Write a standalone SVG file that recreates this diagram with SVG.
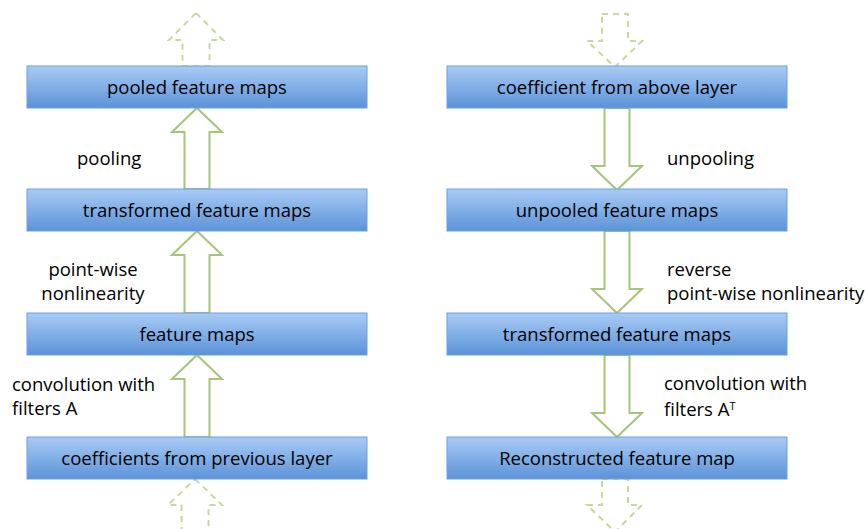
<svg xmlns="http://www.w3.org/2000/svg" width="865" height="529" viewBox="0 0 865 529">
<defs>
<linearGradient id="bg" x1="0" y1="0" x2="0" y2="1">
<stop offset="0" stop-color="#a9cbf5"/>
<stop offset="1" stop-color="#5b93d8"/>
</linearGradient>
<style>
.box{fill:url(#bg);stroke:#6d9fdc;stroke-width:1}
.t{font-family:"Open Sans","Liberation Sans",sans-serif;font-size:18.5px;fill:#000}
.c{text-anchor:middle}
.ar{fill:#fff;stroke:#a6c47a;stroke-width:2}
.da{fill:none;stroke:#c6d9a0;stroke-width:2;stroke-dasharray:6,5}
</style>
</defs>
<rect width="865" height="529" fill="#fff"/>
<g id="connectors">
<path class="da" d="M196,13 L223,40 L209.5,40 L209.5,66 L182.5,66 L182.5,40 L169,40 Z"/>
<path class="ar" d="M197,108 L222,132 L209.5,132 L209.5,189 L184.5,189 L184.5,132 L172,132 Z"/>
<path class="ar" d="M197,231 L222,255 L209.5,255 L209.5,313 L184.5,313 L184.5,255 L172,255 Z"/>
<path class="ar" d="M197,355 L222,379 L209.5,379 L209.5,437 L184.5,437 L184.5,379 L172,379 Z"/>
<path class="da" d="M195,479 L222,505 L208.5,505 L208.5,535 L181.5,535 L181.5,505 L168,505 Z"/>
<path class="da" d="M602,14 L628,14 L628,41 L642,41 L615,67 L587,41 L602,41 Z"/>
<path class="ar" d="M604.5,108 L629.5,108 L629.5,166 L642,166 L617,190 L592,166 L604.5,166 Z"/>
<path class="ar" d="M604.5,231 L629.5,231 L629.5,289 L642,289 L617,313 L592,289 L604.5,289 Z"/>
<path class="ar" d="M604.5,355 L629.5,355 L629.5,413 L642,413 L617,437 L592,413 L604.5,413 Z"/>
<path class="da" d="M602,479 L628,479 L628,505 L642,505 L615,532 L587,505 L602,505 Z"/>
</g>
<g id="n1"><rect class="box" x="27" y="66" width="340" height="42"/><text class="t c" x="197" y="94">pooled feature maps</text></g>
<g id="n2"><rect class="box" x="27" y="189" width="340" height="42"/><text class="t c" x="197" y="217">transformed feature maps</text></g>
<g id="n3"><rect class="box" x="27" y="313" width="340" height="42"/><text class="t c" x="197" y="341">feature maps</text></g>
<g id="n4"><rect class="box" x="27" y="437" width="340" height="42"/><text class="t c" x="197" y="465">coefficients from previous layer</text></g>
<g id="n5"><rect class="box" x="447" y="66" width="340" height="42"/><text class="t c" x="617" y="94">coefficient from above layer</text></g>
<g id="n6"><rect class="box" x="447" y="189" width="340" height="42"/><text class="t c" x="617" y="217">unpooled feature maps</text></g>
<g id="n7"><rect class="box" x="447" y="313" width="340" height="42"/><text class="t c" x="617" y="341">transformed feature maps</text></g>
<g id="n8"><rect class="box" x="447" y="437" width="340" height="42"/><text class="t c" x="617" y="465">Reconstructed feature map</text></g>
<g id="labels">
<text class="t" x="77" y="165">pooling</text>
<text class="t c" x="93" y="276">point-wise</text>
<text class="t c" x="93" y="300">nonlinearity</text>
<text class="t" x="12" y="391">convolution with</text>
<text class="t" x="12" y="415">filters A</text>
<text class="t" x="667" y="165">unpooling</text>
<text class="t" x="667" y="276">reverse</text>
<text class="t" x="667" y="300">point-wise nonlinearity</text>
<text class="t" x="664" y="390">convolution with</text>
<text class="t" x="664" y="416">filters A<tspan font-size="11" dy="-6">T</tspan></text>
</g>
</svg>
